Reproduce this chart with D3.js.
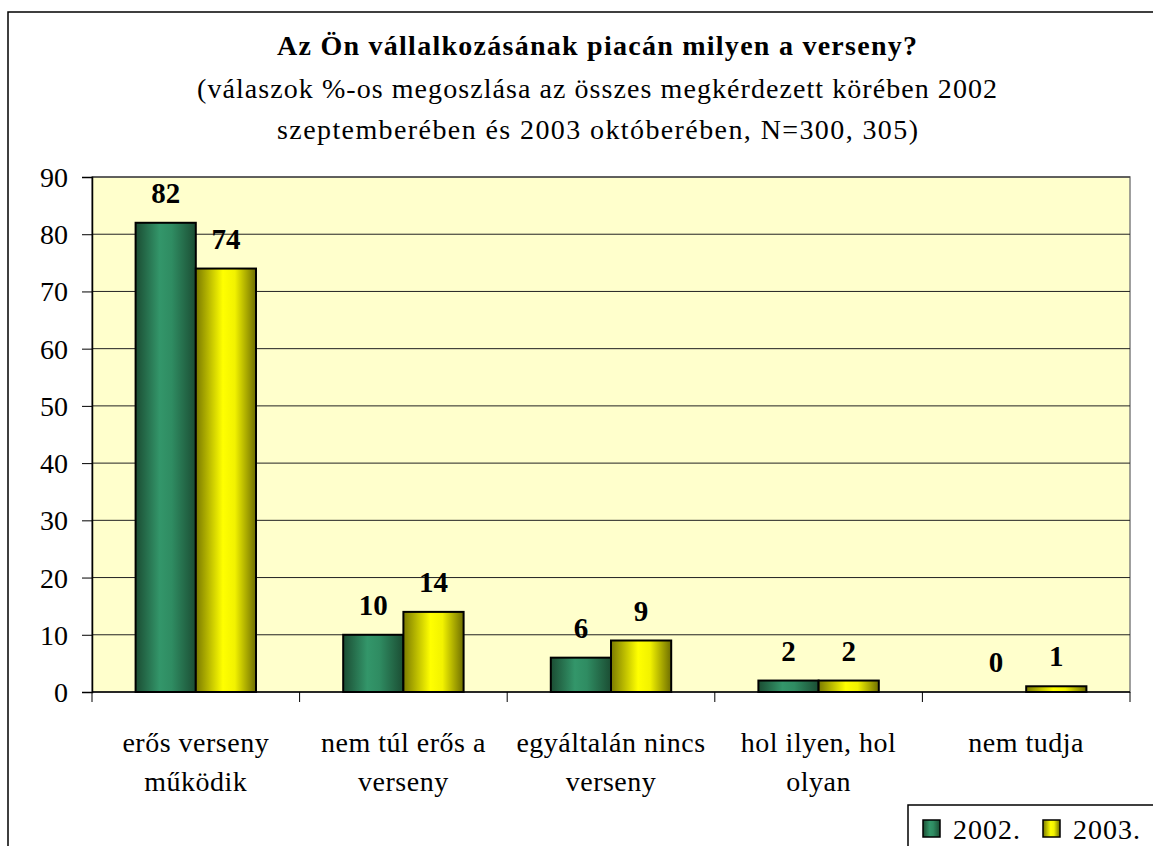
<!DOCTYPE html>
<html>
<head>
<meta charset="utf-8">
<script src="https://cdn.jsdelivr.net/npm/d3@7"></script>
<style>
  body { margin: 0; background: #fff; }
</style>
</head>
<body>
<div id="chart"></div>
<script>
const categories = [["erős verseny", "működik"], ["nem túl erős a", "verseny"], ["egyáltalán nincs", "verseny"], ["hol ilyen, hol", "olyan"], ["nem tudja"]];
const series = ["2002.", "2003."];
const values2002 = [82, 10, 6, 2, 0];
const values2003 = [74, 14, 9, 2, 1];
const yTicks = [0, 10, 20, 30, 40, 50, 60, 70, 80, 90];

const width = 1153, height = 846;
const marginLeft = 92, marginRight = 23, marginTop = 177, plotBottom = 692;
const serif = "Liberation Serif";

const svg = d3.select("#chart").append("svg")
    .attr("width", width)
    .attr("height", height)
    .attr("font-family", serif);

// gradients for the cylinder-like bars
const defs = svg.append("defs");
function makeGrad(id, stops) {
    const g = defs.append("linearGradient").attr("id", id)
        .attr("x1", "0%").attr("x2", "100%").attr("y1", "0%").attr("y2", "0%");
    stops.forEach(s => g.append("stop").attr("offset", s[0]).attr("stop-color", s[1]));
}
makeGrad("gGreen", [["0%", "#1b4d33"], ["40%", "#33966a"], ["60%", "#2f8c62"], ["100%", "#1b4d33"]]);
makeGrad("gYellow", [["0%", "#7a7a00"], ["45%", "#ffff00"], ["65%", "#f2f200"], ["100%", "#6e6e00"]]);
const fills = ["url(#gGreen)", "url(#gYellow)"];

// outer chart border
svg.append("rect")
    .attr("x", 8).attr("y", 12)
    .attr("width", 1160).attr("height", 850)
    .attr("fill", "none").attr("stroke", "#000").attr("stroke-width", 1.5);

function txt(sel) { return sel.attr("font-family", serif).attr("fill", "#000"); }

// title (spaced out like the original)
txt(svg.append("text")).attr("x", 277).attr("y", 55)
    .attr("font-size", 28).attr("font-weight", "bold")
    .attr("textLength", 640).attr("lengthAdjust", "spacing")
    .text("Az Ön vállalkozásának piacán milyen a verseny?");
txt(svg.append("text")).attr("x", 197).attr("y", 98)
    .attr("font-size", 28)
    .attr("textLength", 800).attr("lengthAdjust", "spacing")
    .text("(válaszok %-os megoszlása az összes megkérdezett körében 2002");
txt(svg.append("text")).attr("x", 277).attr("y", 139)
    .attr("font-size", 28)
    .attr("textLength", 641).attr("lengthAdjust", "spacing")
    .text("szeptemberében és 2003 októberében, N=300, 305)");

const x = d3.scaleBand()
    .domain(d3.range(categories.length))
    .range([marginLeft, width - marginRight])
    .paddingInner(0.42)
    .paddingOuter(0.21);
const xs = d3.scaleBand().domain(d3.range(series.length)).range([0, x.bandwidth()]);
const y = d3.scaleLinear().domain([0, 90]).range([plotBottom, marginTop]);

// plot area
svg.append("rect")
    .attr("x", marginLeft).attr("y", marginTop)
    .attr("width", width - marginRight - marginLeft).attr("height", plotBottom - marginTop)
    .attr("fill", "#ffffcc").attr("stroke", "#808080").attr("stroke-width", 1.5);

// gridlines
svg.append("g").selectAll("line")
    .data(yTicks.filter(d => d > 0))
    .join("line")
    .attr("x1", marginLeft).attr("x2", width - marginRight)
    .attr("y1", d => y(d)).attr("y2", d => y(d))
    .attr("stroke", "#222").attr("stroke-width", 1);

// y axis
const yAxis = svg.append("g")
    .attr("transform", `translate(${marginLeft},0)`)
    .call(d3.axisLeft(y).tickValues(yTicks).tickSize(10).tickPadding(14));
yAxis.attr("font-family", serif);
yAxis.select(".domain").attr("stroke", "#000").attr("stroke-width", 1.5);
yAxis.selectAll(".tick line").attr("stroke", "#000");
txt(yAxis.selectAll(".tick text")).attr("font-size", 28).attr("dy", "0.34em");

// x axis: ticks between categories
const step = x.step();
const bounds = d3.range(categories.length + 1).map(i => marginLeft + i * step);
svg.append("line")
    .attr("x1", marginLeft).attr("x2", width - marginRight)
    .attr("y1", plotBottom).attr("y2", plotBottom)
    .attr("stroke", "#000").attr("stroke-width", 1.5);
svg.append("g").selectAll("line")
    .data(bounds)
    .join("line")
    .attr("x1", d => d).attr("x2", d => d)
    .attr("y1", plotBottom).attr("y2", plotBottom + 10)
    .attr("stroke", "#000");

// category labels
const catG = txt(svg.append("g").selectAll("text")
    .data(categories)
    .join("text"))
    .attr("text-anchor", "middle")
    .attr("font-size", 28)
    .attr("letter-spacing", 0.5)
    .attr("transform", (d, i) => `translate(${x(i) + x.bandwidth() / 2},0)`);
catG.selectAll("tspan")
    .data(d => d)
    .join("tspan")
    .attr("x", 0)
    .attr("y", (d, i) => 752 + i * 39)
    .text(d => d);

// bars
const allValues = [values2002, values2003];
allValues.forEach((vals, s) => {
    const g = svg.append("g");
    g.selectAll("rect")
        .data(vals.map((v, i) => ({ v, i })).filter(d => d.v > 0))
        .join("rect")
        .attr("x", d => x(d.i) + xs(s))
        .attr("y", d => y(d.v))
        .attr("width", xs.bandwidth())
        .attr("height", d => y(0) - y(d.v))
        .attr("fill", fills[s])
        .attr("stroke", "#000").attr("stroke-width", 2);
    txt(g.selectAll("text")
        .data(vals.map((v, i) => ({ v, i })))
        .join("text"))
        .attr("x", d => x(d.i) + xs(s) + xs.bandwidth() / 2)
        .attr("y", d => y(d.v) - 20)
        .attr("text-anchor", "middle")
        .attr("font-size", 29).attr("font-weight", "bold")
        .text(d => d.v);
});

// legend
const legend = svg.append("g");
legend.append("rect")
    .attr("x", 908).attr("y", 805).attr("width", 300).attr("height", 60)
    .attr("fill", "#fff").attr("stroke", "#000").attr("stroke-width", 1.5);
series.forEach((s, i) => {
    const lx = 923 + i * 120;
    legend.append("rect")
        .attr("x", lx).attr("y", 820).attr("width", 17).attr("height", 17)
        .attr("fill", fills[i]).attr("stroke", "#000").attr("stroke-width", 1.5);
    txt(legend.append("text"))
        .attr("x", lx + 30).attr("y", 839)
        .attr("font-size", 28).attr("letter-spacing", 1)
        .text(s);
});
</script>
</body>
</html>
